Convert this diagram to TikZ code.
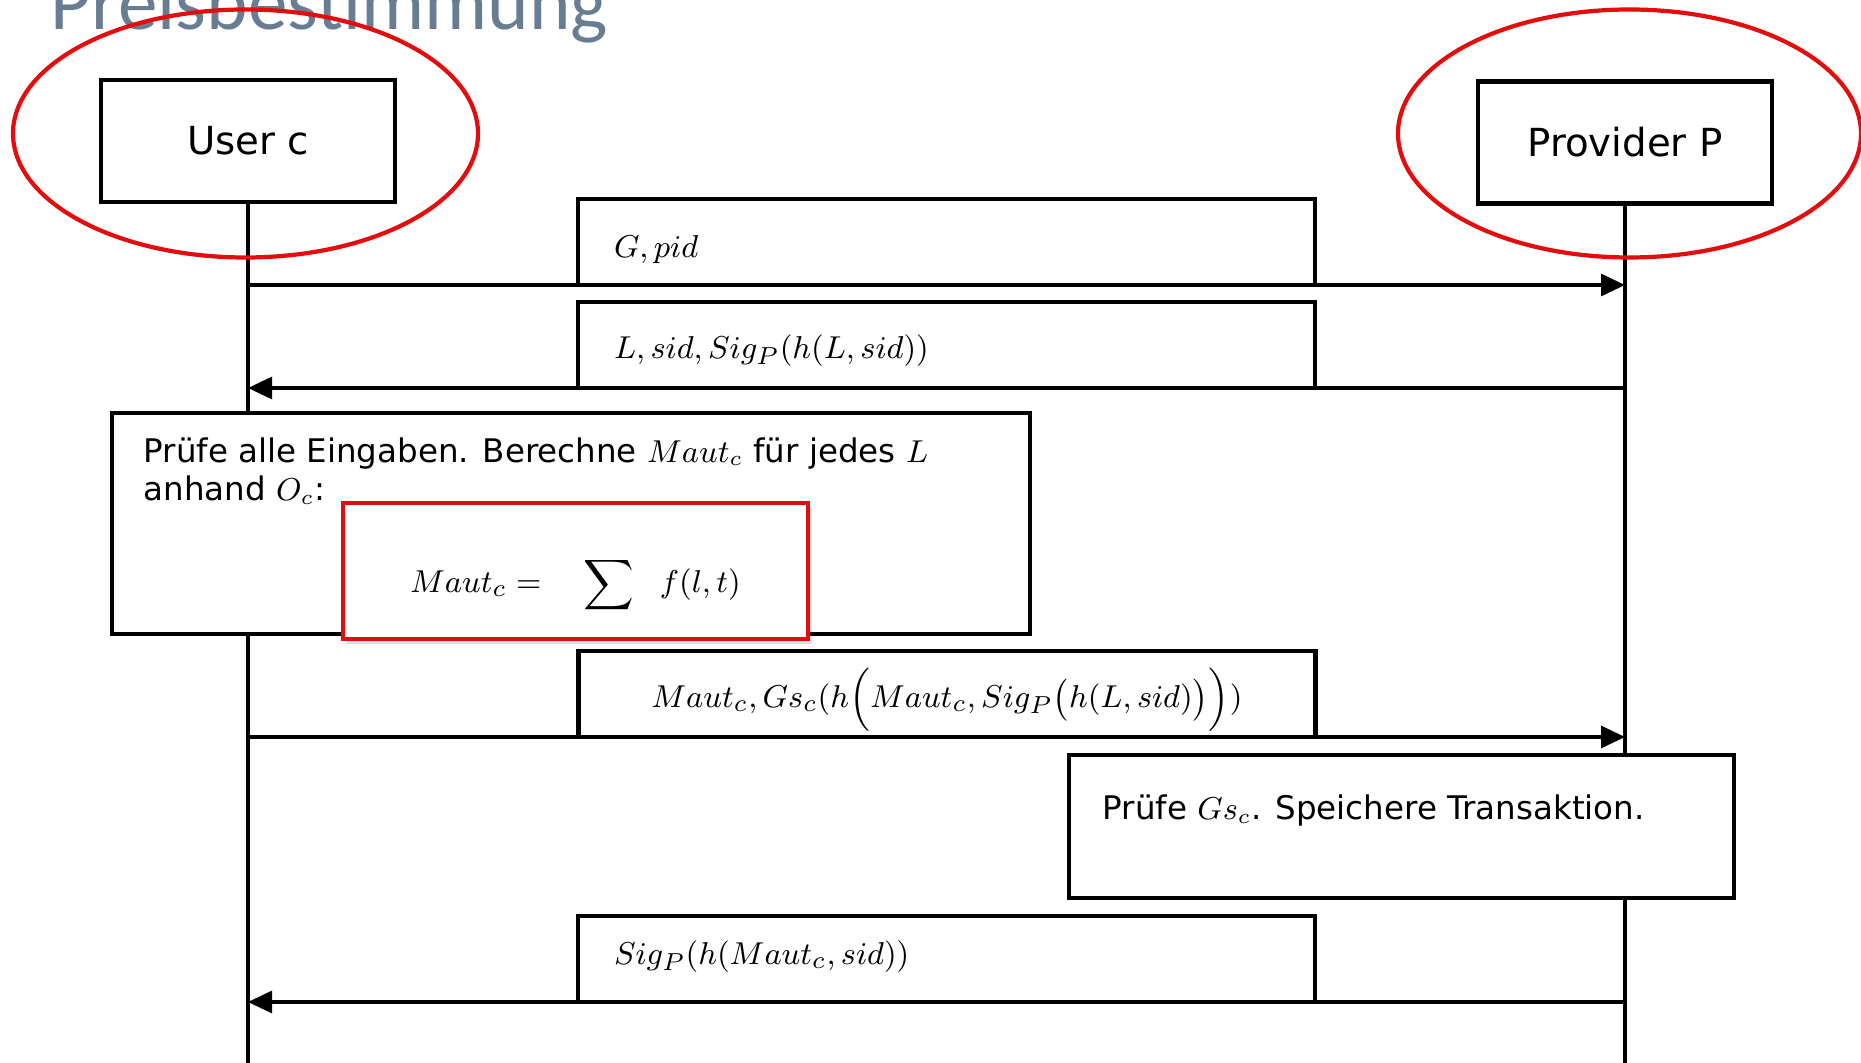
\documentclass[tikz,border=0pt]{standalone}
\usepackage{fontspec}
\setmainfont{DejaVu Sans}
\newfontfamily\titlefont{Carlito}
\usetikzlibrary{arrows.meta,shadows}
\definecolor{titlegrey}{RGB}{104,124,146}
\definecolor{ringred}{RGB}{228,12,12}

\begin{document}
\begin{tikzpicture}[
  actor/.style={draw, line width=1.2pt, minimum width=2.94cm, minimum height=1.22cm, font=\fontsize{11}{13}\selectfont},
  msgbox/.style={draw, line width=1.2pt, outer sep=0pt, minimum height=0.86cm, text width=6.65cm, inner xsep=0.36cm, align=left, font=\fontsize{9.5}{11}\selectfont},
  procbox/.style={draw, line width=1.2pt, fill=white},
  boxtext/.style={inner sep=0pt, align=left, font=\fontsize{9.25}{11}\selectfont},
  sumbox/.style={draw=ringred, line width=1.2pt, fill=white, minimum width=4.65cm, minimum height=1.36cm, drop shadow={opacity=0.25, shadow xshift=0.04cm, shadow yshift=-0.05cm}, font=\fontsize{9.5}{11}\selectfont},
  life/.style={line width=1.1pt},
  msg/.style={line width=0.9pt, -{Triangle[length=2.4mm,width=2.2mm]}},
  ring/.style={draw=ringred, line width=1.2pt}
]
\useasboundingbox (0,0) rectangle (18.61,-10.63);
\node[anchor=base west, text=titlegrey, font=\titlefont\fontsize{22.5}{27}\selectfont, inner sep=0pt] (title) at (0.50,-0.30) {Preisbestimmung};

%%Actors
\node[actor] (user) at (2.48,-1.41) {User c};
\node[actor] (provider) at (16.25,-1.425) {Provider P};
\coordinate (bottom) at (0,-10.63);
\draw[life] (user.south) -- (user.south |- bottom); %%User
\draw[life] (provider.south) -- (provider.south |- bottom); %%Provider

%%Messages
\node[msgbox] (m1) at (9.465,-2.42) {\raisebox{-0.16cm}[0pt][0pt]{$G, pid$}};
\draw[msg] (user.south |- m1.south) -- (provider.south |- m1.south);
\node[msgbox] (m2) at (9.465,-3.45) {\raisebox{-0.14cm}[0pt][0pt]{$L, sid, Sig_P(h(L, sid))$}};
\draw[msg] (provider.south |- m2.south) -- (user.south |- m2.south);

%%Check
\node[procbox, minimum width=9.18cm, minimum height=2.21cm] (check) at (5.71,-5.235) {};
\node[boxtext, anchor=north west] (checktxt) at ([xshift=0.33cm,yshift=-0.26cm]check.north west) {Prüfe alle Eingaben. Berechne $Maut_c$ für jedes $L$\\anhand $O_c$:};
\node[sumbox] (sum) at (5.755,-5.71) {\raisebox{-0.22cm}[0pt][0pt]{$Maut_c = \quad\displaystyle\sum\hspace{0.6em} f(l,t)$}};

\node[msgbox, align=center] (m3) at (9.47,-6.94) {\raisebox{-0.14cm}[0pt][0pt]{$Maut_c, Gs_c(h\Big(Maut_c, Sig_P\big(h(L, sid)\big)\Big))$}};
\draw[msg] (user.south |- m3.south) -- (provider.south |- m3.south);

%%Store
\node[procbox, minimum width=6.65cm, minimum height=1.43cm] (store) at (14.015,-8.265) {};
\node[boxtext, anchor=west] (storetxt) at ([xshift=0.35cm,yshift=-0.58cm]store.north west) {Prüfe $Gs_c$. Speichere Transaktion.};

\node[msgbox] (m4) at (9.465,-9.59) {\raisebox{-0.06cm}[0pt][0pt]{$Sig_P(h(Maut_c, sid))$}};
\draw[msg] (provider.south |- m4.south) -- (user.south |- m4.south);

%%Rings
\draw[ring] (2.455,-1.335) ellipse [x radius=2.325, y radius=1.24];
\draw[ring] (16.295,-1.335) ellipse [x radius=2.315, y radius=1.24];
\end{tikzpicture}
\end{document}
